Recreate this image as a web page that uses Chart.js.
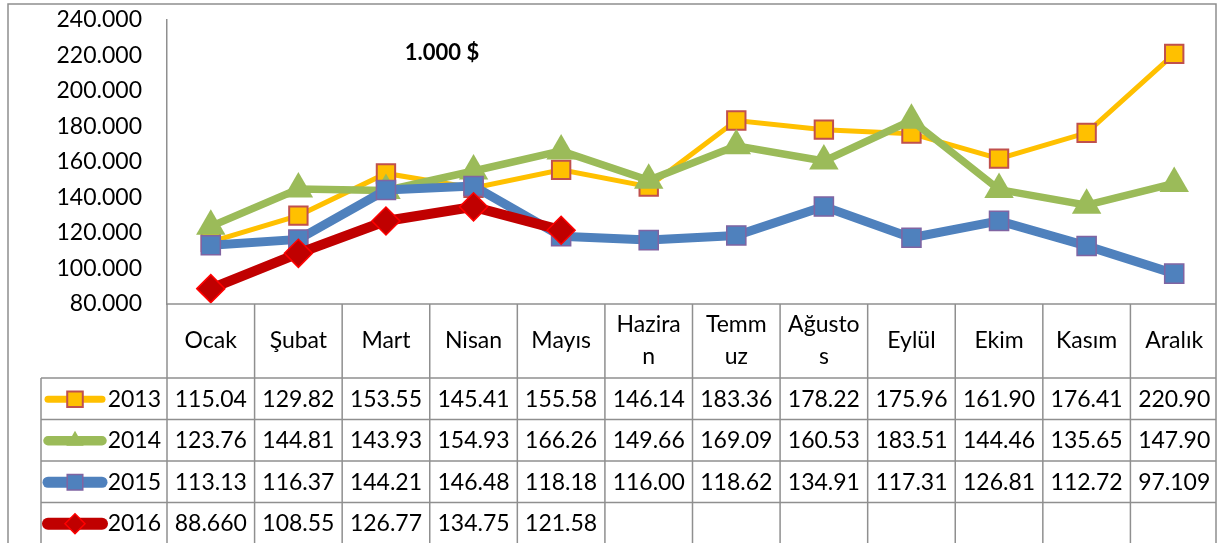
<!DOCTYPE html>
<html><head><meta charset="utf-8">
<script src="https://cdn.jsdelivr.net/npm/chart.js@4.4.1/dist/chart.umd.min.js"></script>
<style>html,body{margin:0;padding:0;background:#fff}#wrap{width:1219px;height:543px;position:relative}</style>
</head><body><div id="wrap"><canvas id="c"></canvas></div>
<script>
// ---- data ----
const months = ["Ocak","Şubat","Mart","Nisan","Mayıs","Haziran","Temmuz","Ağustos","Eylül","Ekim","Kasım","Aralık"];
const monthHeader = [["Ocak"],["Şubat"],["Mart"],["Nisan"],["Mayıs"],["Hazira","n"],["Temm","uz"],["Ağusto","s"],["Eylül"],["Ekim"],["Kasım"],["Aralık"]];
const years = ["2013","2014","2015","2016"];
const v2013 = [115.04,129.82,153.55,145.41,155.58,146.14,183.36,178.22,175.96,161.90,176.41,220.90];
const v2014 = [123.76,144.81,143.93,154.93,166.26,149.66,169.09,160.53,183.51,144.46,135.65,147.90];
const v2015 = [113.13,116.37,144.21,146.48,118.18,116.00,118.62,134.91,117.31,126.81,112.72,97.109];
const v2016 = [88.660,108.55,126.77,134.75,121.58,null,null,null,null,null,null,null];
const yMin = 80, yMax = 240, yStep = 20;
const unitLabel = "1.000 $";

// ---- styles ----
const FONT = "Lato, 'Noto Sans', sans-serif";
const styles = [
  {line:"#FFC000", fill:"#FFC000", border:"#C0504D", bw:2,   lw:5, shape:"rect",     r:13,   order:4},
  {line:"#9BBB59", fill:"#9BBB59", border:"#9BBB59", bw:1,   lw:7.5, shape:"triangle", r:17, order:3},
  {line:"#4F81BD", fill:"#4F81BD", border:"#8064A2", bw:1.5, lw:9, shape:"rect",     r:13.5, order:2},
  {line:"#C00000", fill:"#C00000", border:"#FF0000", bw:1.5, lw:10, shape:"rectRot", r:14,   order:1}
];
const series = [v2013, v2014, v2015, v2016];
const GRID = "#8f8f8f";

function drawMarker(ctx, shape, x, y, r, fill, border, bw){
  ctx.save();
  ctx.beginPath();
  if (shape === "rect") {
    const s = Math.SQRT1_2 * r;
    ctx.rect(x - s, y - s, 2*s, 2*s);
  } else if (shape === "rectRot") {
    ctx.moveTo(x, y - r); ctx.lineTo(x + r, y); ctx.lineTo(x, y + r); ctx.lineTo(x - r, y); ctx.closePath();
  } else {
    const h = r;
    ctx.moveTo(x, y - h); ctx.lineTo(x + h*0.866, y + h*0.5); ctx.lineTo(x - h*0.866, y + h*0.5); ctx.closePath();
  }
  ctx.fillStyle = fill; ctx.fill();
  if (bw > 0) { ctx.lineWidth = bw; ctx.strokeStyle = border; ctx.stroke(); }
  ctx.restore();
}

const tablePlugin = {
  id: "dataTable",
  afterDraw(chart) {
    const ctx = chart.ctx;
    const a = chart.chartArea;
    const xs = chart.scales.x;
    const n = months.length;
    const colW = (a.right - a.left) / n;
    const headerBottom = 378;
    const rowH = 41.5;
    const legendLeft = 41;
    const H = chart.height;
    ctx.save();
    ctx.strokeStyle = GRID;
    ctx.lineWidth = 1.5;
    // outer border
    ctx.beginPath();
    ctx.moveTo(8, H); ctx.lineTo(8, 4); ctx.lineTo(1216, 4); ctx.lineTo(1216, H);
    ctx.stroke();
    // x-axis line
    ctx.beginPath();
    ctx.moveTo(a.left, a.bottom); ctx.lineTo(1216, a.bottom);
    ctx.stroke();
    // vertical column lines
    for (let i = 0; i < n; i++) {
      const x = xs.getPixelForValue(i) - colW/2;
      ctx.beginPath(); ctx.moveTo(x, a.bottom); ctx.lineTo(x, H); ctx.stroke();
    }
    // legend column left line
    ctx.beginPath(); ctx.moveTo(legendLeft, headerBottom); ctx.lineTo(legendLeft, H); ctx.stroke();
    // horizontal row lines
    for (let r = 0; r <= years.length; r++) {
      const y = headerBottom + r*rowH;
      ctx.beginPath(); ctx.moveTo(legendLeft, y); ctx.lineTo(1216, y); ctx.stroke();
    }
    // header text
    ctx.fillStyle = "#000";
    ctx.font = "23px " + FONT;
    ctx.textAlign = "center";
    ctx.textBaseline = "middle";
    for (let i = 0; i < n; i++) {
      const cx = xs.getPixelForValue(i);
      const lines = monthHeader[i];
      if (lines.length === 1) {
        ctx.fillText(lines[0], cx, 341);
      } else {
        ctx.fillText(lines[0], cx, 325);
        ctx.fillText(lines[1], cx, 357);
      }
    }
    // rows
    for (let r = 0; r < years.length; r++) {
      const cy = headerBottom + r*rowH + rowH/2 + 0.5;
      const st = styles[r];
      ctx.save();
      ctx.strokeStyle = st.line; ctx.lineWidth = st.lw + 2; ctx.lineCap = "round";
      ctx.beginPath(); ctx.moveTo(48, cy); ctx.lineTo(102, cy); ctx.stroke();
      ctx.restore();
      if (st.shape === "rectRot") {
        drawMarker(ctx, st.shape, 75, cy, 10, st.fill, st.border, st.bw);
      } else if (st.shape === "triangle") {
        drawMarker(ctx, st.shape, 75, cy, 10, st.fill, st.border, 0);
      } else {
        drawMarker(ctx, st.shape, 75, cy, 11, st.fill, st.border, st.bw);
      }
      ctx.fillStyle = "#000";
      ctx.textAlign = "right";
      ctx.fillText(years[r], 161, cy);
      ctx.textAlign = "center";
      const vals = series[r];
      for (let i = 0; i < n; i++) {
        if (vals[i] == null) continue;
        ctx.fillText(vals[i].toPrecision(5), xs.getPixelForValue(i), cy);
      }
    }
    // unit label
    ctx.font = "bold 22px " + FONT;
    ctx.textAlign = "center";
    ctx.fillText(unitLabel, 442, 53);
    ctx.restore();
  }
};

const datasets = years.map((y, i) => ({
  label: y,
  data: series[i],
  borderColor: styles[i].line,
  backgroundColor: styles[i].fill,
  borderWidth: styles[i].lw,
  pointStyle: styles[i].shape,
  pointRadius: styles[i].r,
  pointBackgroundColor: styles[i].fill,
  pointBorderColor: styles[i].border,
  pointBorderWidth: styles[i].shape === "triangle" ? 0 : styles[i].bw,
  tension: 0,
  order: styles[i].order,
  spanGaps: false,
  clip: false
}));

new Chart(document.getElementById("c"), {
  type: "line",
  data: { labels: months, datasets },
  options: {
    responsive: true,
    maintainAspectRatio: false,
    animation: false,
    events: [],
    layout: { autoPadding: false, padding: { left: 0, top: 20, right: 1, bottom: 239 } },
    plugins: { legend: { display: false }, tooltip: { enabled: false }, title: { display: false } },
    scales: {
      x: { type: "category", offset: true, display: false,
        afterFit: s => { s.paddingLeft = 0; s.paddingRight = 0; s.paddingTop = 0; s.paddingBottom = 0; s.height = 0; } },
      y: {
        min: yMin, max: yMax,
        grid: { display: false, drawTicks: false },
        border: { display: true, color: GRID, width: 1.5 },
        ticks: { stepSize: yStep, padding: 25, color: "#000", font: { family: FONT, size: 23 },
          callback: v => Number(v).toFixed(3) },
        afterFit: s => { s.width = 167; s.paddingTop = 0; s.paddingBottom = 0; s.paddingLeft = 0; s.paddingRight = 0; }
      }
    }
  },
  plugins: [tablePlugin]
});
</script>
</body></html>
